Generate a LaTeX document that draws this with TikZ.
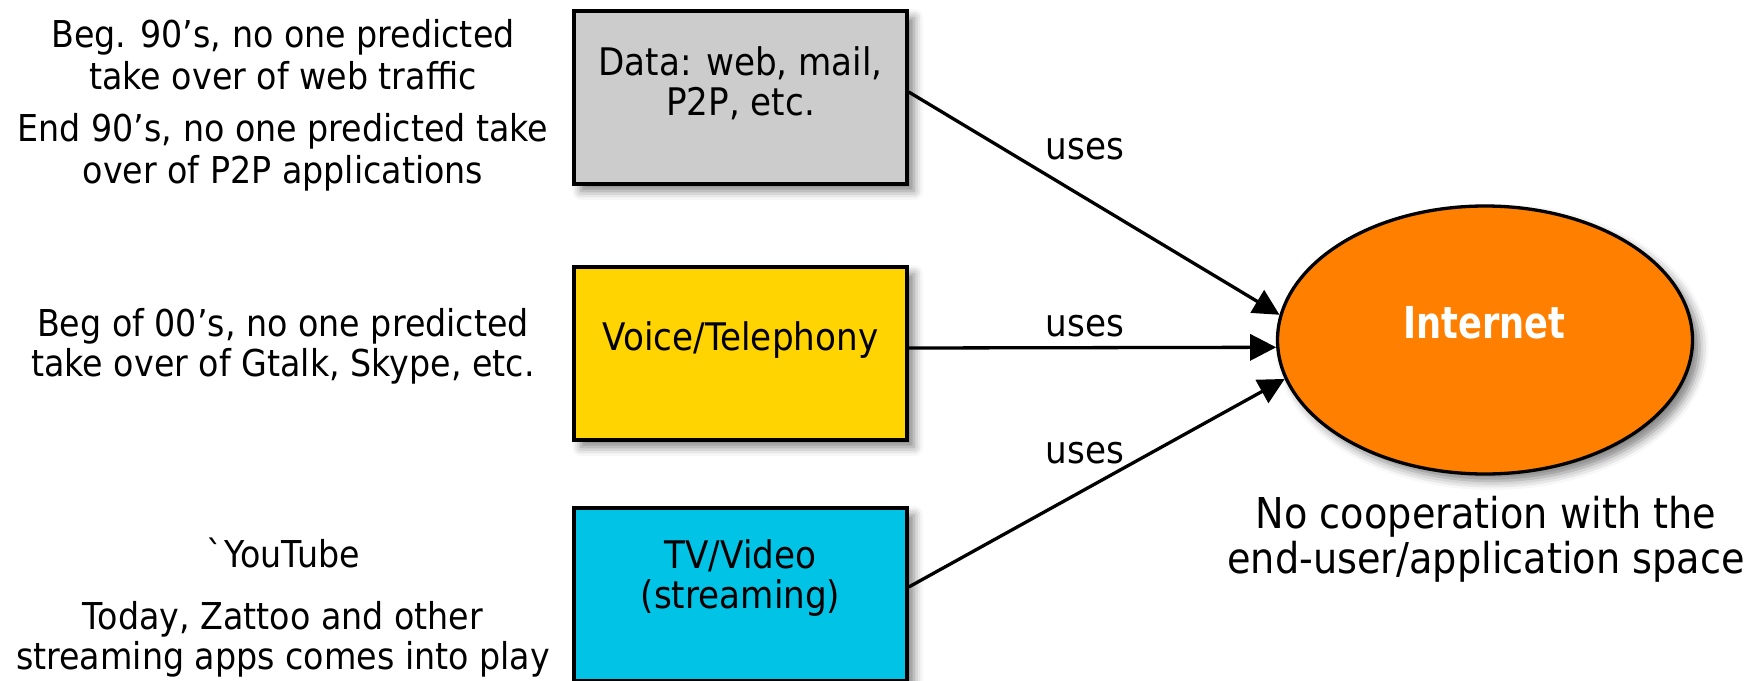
\documentclass[tikz,border=0pt]{standalone}
\usepackage{fontspec}
\setmainfont{DejaVu Sans}[FakeStretch=0.9]
\newfontfamily\inetfont{DejaVu Sans}[FakeStretch=0.8]
\usetikzlibrary{arrows.meta,shapes.geometric,shadows.blur}
\definecolor{boxgray}{HTML}{CCCCCC}
\definecolor{boxyellow}{HTML}{FFD400}
\definecolor{boxcyan}{HTML}{00C3E6}
\definecolor{inetorange}{HTML}{FF7F00}
\begin{document}
\begin{tikzpicture}[x=1pt,y=-1pt,
  softshadow/.style={blur shadow={shadow xshift=7pt,shadow yshift=-7pt,shadow blur radius=9pt,shadow opacity=50}},
  appbox/.style={draw=black, line width=3.5pt, minimum width=333pt, minimum height=173pt, inner sep=0pt, softshadow},
  sidetext/.style={font=\fontsize{37}{40}\selectfont, align=center, inner sep=0pt, anchor=base},
  sidetextwide/.style={font=\fontsize{37}{42}\selectfont, align=center, inner sep=0pt, anchor=base},
  boxtext/.style={font=\fontsize{38}{40}\selectfont, align=center, inner sep=0pt, anchor=base},
  useslbl/.style={font=\fontsize{38}{40}\selectfont, inner sep=0pt, anchor=base},
  arr/.style={line width=3.3pt, -{Triangle[length=26pt,width=26pt]}}
]
\useasboundingbox (0,0) rectangle (1747,680);

% boxes
\node[appbox, fill=boxgray]   (data)  at (740.5,97.5)  {};
\node[appbox, fill=boxyellow] (voice) at (740.5,353.5) {};
\node[appbox, fill=boxcyan]   (tv)    at (740.5,594.5) {};

% (base anchor = baseline of last line)
\node[boxtext] (datat)  at (740.5,115) {Data: web, mail,\\P2P, etc.};
\node[boxtext] (voicet) at (740.5,350) {Voice/Telephony};
\node[boxtext] (tvt)    at (740.5,608) {TV/Video\\(streaming)};

% Internet ellipse
\node[ellipse, draw=black, line width=3.3pt, fill=inetorange, minimum width=415pt, minimum height=268pt, inner sep=0pt, softshadow] (inet) at (1485,340) {};
\node[font=\inetfont\fontsize{44}{46}\selectfont\bfseries, text=white, inner sep=0pt, anchor=base] (inett) at (1484.5,338) {Internet};

\node[font=\fontsize{42.5}{45}\selectfont, align=center, inner sep=0pt, anchor=base] (coop) at (1486,573) {No cooperation with the\\end-user/application space};

% side texts
\node[sidetextwide] (p1) at (283,89)  {Beg. 90’s, no one predicted\\take over of web traffic};
\node[sidetextwide] (p2) at (283,183) {End 90’s, no one predicted take\\over of P2P applications};
\node[sidetext] (p3) at (283,376) {Beg of 00’s, no one predicted\\take over of Gtalk, Skype, etc.};
\node[sidetext] (p4) at (283,567) {\textasciigrave YouTube};
\node[sidetext] (p5) at (283,669) {Today, Zattoo and other\\streaming apps comes into play};

% arrows
\draw[arr] ([yshift=5.5pt]data.east) -- (inet.173);
\draw[arr] ([yshift=5.5pt]voice.east) -- (inet.182);
\draw[arr] ([yshift=7.5pt]tv.east) -- (inet.191);

\node[useslbl] (u1) at (1085,159) {uses};
\node[useslbl] (u2) at (1085,336) {uses};
\node[useslbl] (u3) at (1085,463) {uses};
\end{tikzpicture}
\end{document}
